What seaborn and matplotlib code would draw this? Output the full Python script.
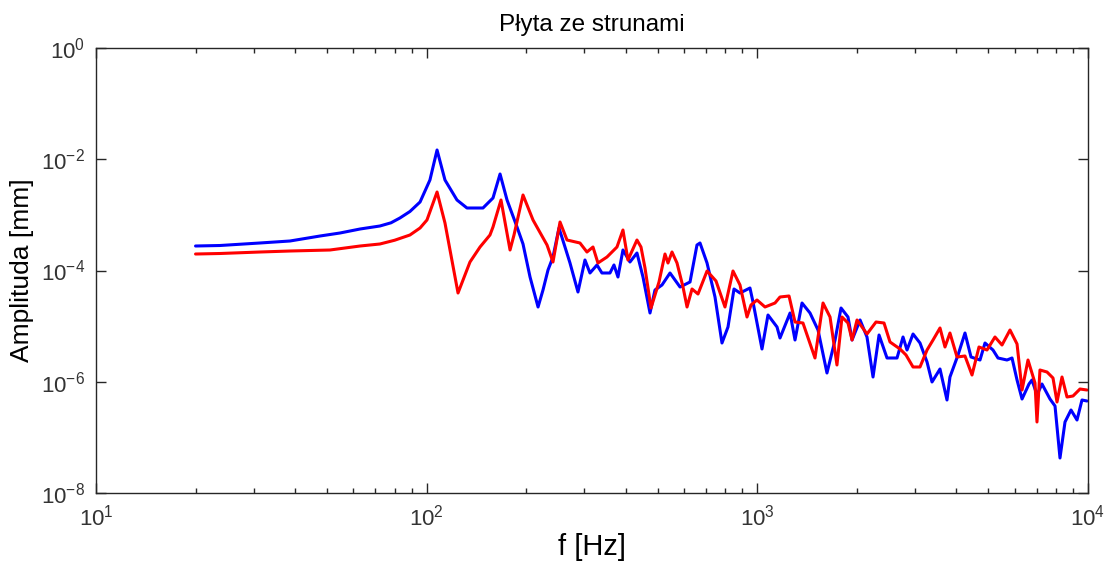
import numpy as np
import pandas as pd
import matplotlib
matplotlib.use("Agg")
import matplotlib.pyplot as plt
import seaborn as sns
from matplotlib.ticker import LogLocator, NullLocator, LogFormatterMathtext

# ---- data ----
freq_blue = [20, 23.7, 31.3, 38.6, 47.6, 54.7, 62.9, 72.2, 78.0, 83.0, 89.0, 95.5,
             102.3, 107.5, 113.6, 123.5, 132.4, 148.0, 158.7, 166.7, 175.0, 187.6,
             195.6, 205.4, 217.2, 224.8, 232.8, 241.0, 251.3, 262.0, 271.3, 286.8,
             301.1, 311.8, 327.4, 338.9, 358.4, 368.5, 378.9, 392.3, 411.9, 432.5,
             451.0, 473.6, 490.3, 514.8, 544.4, 583.7, 625.8, 656.9, 670.9, 704.5,
             744.7, 781.8, 815.2, 850.0, 886.3, 950.0, 970.3, 1033, 1077, 1147,
             1171, 1256, 1300, 1365, 1443, 1526, 1624, 1718, 1791, 1880,
             1934, 2045, 2146, 2238, 2334, 2467, 2645, 2758, 2836, 2957,
             3104, 3260, 3375, 3568, 3746, 3824, 4045, 4246, 4428, 4714,
             4881, 5160, 5343, 5689, 5891, 6101, 6317, 6631, 6770, 7010,
             7258, 7675, 7948, 8228, 8520, 8884, 9263, 9590, 9930]
amp_blue = [2.757e-4, 2.814e-4, 3.122e-4, 3.391e-4, 4.171e-4, 4.723e-4, 5.573e-4, 6.310e-4, 7.2e-4, 8.786e-4, 1.15e-3, 1.704e-3,
            4.236e-3, 1.467e-2, 4.236e-3, 1.851e-3, 1.329e-3, 1.329e-3, 2.011e-3, 5.43e-3, 1.851e-3, 6.053e-4,
            2.995e-4, 7.64e-5, 2.207e-5, 4.461e-5, 1.021e-4, 1.748e-4, 5.808e-4, 2.645e-4, 1.364e-4, 4.106e-5,
            1.544e-4, 9.018e-5, 1.256e-4, 9.018e-5, 9.018e-5, 1.256e-4, 7.64e-5, 2.336e-4, 1.421e-4, 2.063e-4,
            7.64e-5, 1.722e-5, 4.461e-5, 5.487e-5, 9.018e-5, 5.050e-5, 6.213e-5, 2.873e-4, 3.122e-4, 1.364e-4,
            3.339e-5, 4.972e-6, 9.645e-6, 4.649e-5, 3.940e-5, 4.846e-5, 2.714e-5, 3.879e-6, 1.585e-5, 9.645e-6,
            6.116e-6, 1.722e-5, 5.63e-6, 2.604e-5, 1.722e-5, 8.518e-6, 1.437e-6, 5.63e-6, 2.118e-5, 1.459e-5,
            5.63e-6, 1.289e-5, 6.374e-6, 1.217e-6, 6.924e-6, 2.673e-6, 2.673e-6, 6.374e-6, 3.722e-6, 7.217e-6,
            4.972e-6, 2.265e-6, 9.897e-7, 1.695e-6, 4.698e-7, 1.217e-6, 3.026e-6, 7.52e-6, 2.786e-6, 2.460e-6,
            4.972e-6, 3.722e-6, 2.673e-6, 2.460e-6, 2.673e-6, 1.075e-6, 4.896e-7, 9.112e-7, 1.075e-6, 5.777e-7,
            9.112e-7, 4.896e-7, 3.664e-7, 4.258e-8, 1.890e-7, 3.106e-7, 2.053e-7, 4.698e-7, 4.507e-7]

freq_red = [20, 23.7, 31.3, 38.6, 51.0, 62.9, 72.2, 80.0, 89.0, 95.5, 100.2,
            107.5, 113.6, 124.4, 135.2, 145.0, 155.4, 158.7, 167.8, 178.7, 183.7,
            195.6, 209.7, 231.2, 241.0, 253.1, 265.7, 290.8, 305.3, 318.4, 329.6,
            351.0, 376.3, 392.3, 406.2, 432.5, 444.8, 457.4, 476.9, 504.2, 525.7,
            536.8, 552.0, 571.6, 596.0, 612.9, 634.6, 661.6, 704.5, 749.9, 798.3,
            844.1, 886.3, 930.6, 956.8, 997.6, 1055, 1131, 1171, 1247, 1300,
            1374, 1494, 1580, 1659, 1741, 1803, 1880, 1934, 2002, 2146,
            2285, 2416, 2519, 2701, 2816, 2957, 3104, 3260, 3399, 3568,
            3694, 3824, 4017, 4246, 4459, 4681, 4949, 5232, 5495, 5809,
            6101, 6317, 6585, 6913, 7010, 7157, 7516, 7837, 8059, 8344,
            8640, 9009, 9458, 9930]
amp_red = [1.979e-4, 2.021e-4, 2.150e-4, 2.241e-4, 2.336e-4, 2.757e-4, 2.995e-4, 3.5e-4, 4.347e-4, 5.808e-4, 8.089e-4,
           2.577e-3, 7.142e-4, 3.940e-5, 1.421e-4, 2.645e-4, 4.347e-4, 6.053e-4, 1.851e-3, 2.336e-4, 4.347e-4,
           2.277e-3, 8.089e-4, 2.873e-4, 1.421e-4, 7.444e-4, 3.534e-4, 3.122e-4, 2.150e-4, 2.645e-4, 1.364e-4,
           1.748e-4, 2.645e-4, 5.347e-4, 1.544e-4, 3.534e-4, 2.645e-4, 1.109e-4, 2.118e-5, 6.213e-5, 1.979e-4,
           1.364e-4, 2.150e-4, 1.364e-4, 5.050e-5, 2.207e-5, 4.649e-5, 3.780e-5, 9.795e-5, 6.475e-5, 2.207e-5,
           9.795e-5, 5.487e-5, 1.459e-5, 2.398e-5, 2.949e-5, 2.207e-5, 2.604e-5, 3.339e-5, 3.480e-5, 1.186e-5,
           1.138e-5, 2.673e-6, 2.604e-5, 1.459e-5, 2.001e-6, 1.459e-5, 1.138e-5, 5.63e-6, 1.289e-5, 7.217e-6,
           1.186e-5, 1.138e-5, 5.183e-6, 3.879e-6, 3.026e-6, 1.842e-6, 1.842e-6, 3.722e-6, 5.63e-6, 9.254e-6,
           4.214e-6, 7.52e-6, 2.786e-6, 2.903e-6, 1.322e-6, 4.214e-6, 3.722e-6, 6.374e-6, 4.577e-6, 8.518e-6,
           4.771e-6, 7.105e-7, 2.460e-6, 9.495e-7, 1.890e-7, 1.626e-6, 1.497e-6, 1.168e-6, 4.325e-7, 1.217e-6,
           5.318e-7, 5.543e-7, 7.405e-7, 7.105e-7]

series_names = ["blue", "red"]
title_text = "Płyta ze strunami"
x_label = "f [Hz]"
y_label = "Amplituda [mm]"

# ---- build table ----
df = pd.concat([
    pd.DataFrame({"f": freq_blue, "A": amp_blue, "s": series_names[0]}),
    pd.DataFrame({"f": freq_red, "A": amp_red, "s": series_names[1]}),
], ignore_index=True)

sns.set_style("ticks")
plt.rcParams['font.family'] = ['Liberation Sans', 'DejaVu Sans']
plt.rcParams['mathtext.fontset'] = 'custom'
plt.rcParams['mathtext.rm'] = 'Liberation Sans'
plt.rcParams['mathtext.it'] = 'Liberation Sans:italic'
plt.rcParams['mathtext.bf'] = 'Liberation Sans:bold'

fig = plt.figure(figsize=(11.06, 5.66), dpi=100)
ax = fig.add_axes([96/1106, 1 - 493/566, (1088-96)/1106, (493-48)/566])

sns.lineplot(data=df, x="f", y="A", hue="s", units="s", estimator=None, sort=False,
             palette={"blue": "#0000ff", "red": "#ff0000"}, linewidth=2.2,
             legend=False, ax=ax)

ax.set_xscale("log")
ax.set_yscale("log")
ax.set_xlim(10, 1e4)
ax.set_ylim(1e-8, 1)
ax.set_xticks([10, 100, 1000, 10000])
ax.xaxis.set_minor_locator(LogLocator(base=10, subs=np.arange(2, 10), numticks=20))
ax.xaxis.set_major_formatter(LogFormatterMathtext())
ax.set_yticks([1e-8, 1e-6, 1e-4, 1e-2, 1])
ax.yaxis.set_major_formatter(LogFormatterMathtext())
ax.yaxis.set_minor_locator(NullLocator())

for sp in ax.spines.values():
    sp.set_visible(True)
    sp.set_color("#262626")
    sp.set_linewidth(1.0)

ax.tick_params(which="both", direction="in", top=True, right=True, color="#262626", width=1.0)
ax.tick_params(which="major", length=7, labelsize=16, pad=8, labelcolor="#333333")
ax.tick_params(which="minor", length=3.6)

ax.set_title(title_text, fontsize=17.5, pad=12, color="black")
ax.set_xlabel(x_label, fontsize=21, labelpad=2, color="black")
ax.set_ylabel(y_label, fontsize=19, labelpad=5, color="black")

fig.savefig("out.png", dpi=100, facecolor="white")
